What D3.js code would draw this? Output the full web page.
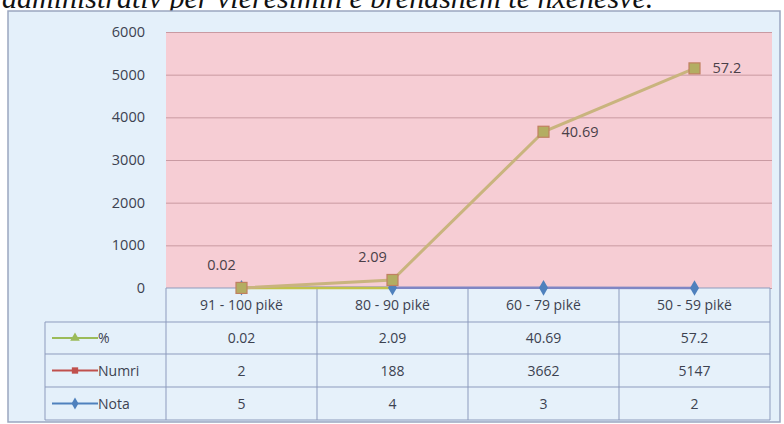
<!DOCTYPE html>
<html>
<head>
<meta charset="utf-8">
<script src="https://cdn.jsdelivr.net/npm/d3@7"></script>
<style>
  body { margin: 0; background: #fff; }
  .caption { font-family: "Liberation Serif", "DejaVu Serif", serif; font-style: italic; }
</style>
</head>
<body>
<div id="chart"></div>
<script>
// data
const categories = ["91 - 100 pikë", "80 - 90 pikë", "60 - 79 pikë", "50 - 59 pikë"];
const percent = [0.02, 2.09, 40.69, 57.2];
const numri = [2, 188, 3662, 5147];
const nota = [5, 4, 3, 2];
const yTicks = [0, 1000, 2000, 3000, 4000, 5000, 6000];
const caption = "administrativ për vlerësimin e brendshëm të nxënësve.";

const width = 784, height = 424;
const plot = { left: 166, right: 770, top: 32, bottom: 288 };
const sans = "'Open Sans', 'DejaVu Sans', sans-serif";

const svg = d3.select("#chart").append("svg")
  .attr("width", width)
  .attr("height", height);

// caption line cut at the top of the image
svg.append("text")
  .attr("class", "caption")
  .attr("x", 2)
  .attr("y", 8)
  .attr("font-size", 30)
  .attr("fill", "#111")
  .text(caption);

// chart frame
svg.append("rect")
  .attr("x", 8).attr("y", 11)
  .attr("width", 772).attr("height", 411)
  .attr("fill", "#e4f0fa")
  .attr("stroke", "#9aa6c0")
  .attr("stroke-width", 1.5);

const x = d3.scaleBand().domain(categories).range([plot.left, plot.right]);
const y = d3.scaleLinear().domain([0, 6000]).range([plot.bottom, plot.top]);
const cx = d => x(d) + x.bandwidth() / 2;

// plot background
svg.append("rect")
  .attr("x", plot.left).attr("y", plot.top)
  .attr("width", plot.right - plot.left + 2)
  .attr("height", plot.bottom - plot.top)
  .attr("fill", "#f6cdd4");

// gridlines
svg.append("g")
  .attr("transform", `translate(${plot.left},0)`)
  .call(d3.axisLeft(y).tickValues(yTicks).tickSize(-(plot.right - plot.left + 2)).tickFormat(""))
  .call(g => g.select(".domain").remove())
  .call(g => g.selectAll("line").attr("stroke", "#c99aa2").attr("stroke-width", 1));

// y axis labels
svg.append("g")
  .attr("transform", `translate(${plot.left},0)`)
  .call(d3.axisLeft(y).tickValues(yTicks).tickSize(0).tickPadding(21).tickFormat(d3.format("d")))
  .call(g => g.select(".domain").remove())
  .call(g => g.selectAll("text")
    .attr("font-family", sans)
    .attr("font-size", 14.5)
    .attr("fill", "#3c4250"));

// data table under the plot
const rowsY = [288, 322, 354, 387, 420];
const tableLeft = 45;
const gridColor = "#8d9bbd";
const table = svg.append("g").attr("font-family", sans);
table.append("rect")
  .attr("x", plot.left).attr("y", rowsY[0])
  .attr("width", plot.right - plot.left).attr("height", rowsY[4] - rowsY[0])
  .attr("fill", "#e6f1fa");
// horizontal lines
rowsY.forEach((ry, i) => {
  table.append("line")
    .attr("x1", i === 0 ? plot.left : tableLeft).attr("x2", plot.right)
    .attr("y1", ry).attr("y2", ry)
    .attr("stroke", gridColor).attr("stroke-width", 1);
});
// vertical lines
[tableLeft].concat(categories.map(c => x(c)), [plot.right]).forEach((vx, i) => {
  table.append("line")
    .attr("x1", vx).attr("x2", vx)
    .attr("y1", i === 0 ? rowsY[1] : rowsY[0]).attr("y2", rowsY[4])
    .attr("stroke", gridColor).attr("stroke-width", 1);
});

// header labels
table.selectAll(".cat").data(categories).enter().append("text")
  .attr("x", d => cx(d))
  .attr("y", (rowsY[0] + rowsY[1]) / 2 + 5)
  .attr("text-anchor", "middle")
  .attr("font-size", 14)
  .attr("fill", "#3c4250")
  .text(d => d);

const rows = [
  { name: "%", values: percent, color: "#9bbb59", marker: "triangle" },
  { name: "Numri", values: numri, color: "#c0504d", marker: "square" },
  { name: "Nota", values: nota, color: "#4f81bd", marker: "diamond" }
];
const symbolType = { triangle: d3.symbolTriangle, square: d3.symbolSquare, diamond: d3.symbolDiamond };

rows.forEach((r, i) => {
  const mid = (rowsY[i + 1] + rowsY[i + 2]) / 2;
  table.selectAll(".v" + i).data(r.values).enter().append("text")
    .attr("x", (d, j) => cx(categories[j]))
    .attr("y", mid + 5)
    .attr("text-anchor", "middle")
    .attr("font-size", 14)
    .attr("fill", "#3c4250")
    .text(d => d);
  // legend key
  table.append("line")
    .attr("x1", 52).attr("x2", 98)
    .attr("y1", mid).attr("y2", mid)
    .attr("stroke", r.color).attr("stroke-width", 2);
  table.append("path")
    .attr("transform", `translate(75,${mid})`)
    .attr("d", d3.symbol().type(symbolType[r.marker]).size(40)())
    .attr("fill", r.color);
  table.append("text")
    .attr("x", 98).attr("y", mid + 5)
    .attr("font-size", 14)
    .attr("fill", "#3c4250")
    .text(r.name);
});

// series lines
const line = d3.line().x((d, j) => cx(categories[j])).y(d => y(d));

svg.append("path").datum(nota)
  .attr("d", line).attr("fill", "none")
  .attr("stroke", "#7f86c4").attr("stroke-width", 2.5);
svg.append("path")
  .attr("d", line(percent.slice(0, 2)))
  .attr("fill", "none")
  .attr("stroke", "#c2c24a").attr("stroke-width", 2.5);
svg.append("path").datum(numri)
  .attr("d", line).attr("fill", "none")
  .attr("stroke", "#c9b47e").attr("stroke-width", 3);

// Nota markers
svg.selectAll(".nota").data(nota).enter().append("path")
  .attr("transform", (d, j) => `translate(${cx(categories[j])},${y(d)})`)
  .attr("d", d3.symbol().type(d3.symbolDiamond).size(70)())
  .attr("fill", "#4f81bd");

// Numri markers
svg.selectAll(".numri").data(numri).enter().append("rect")
  .attr("x", (d, j) => cx(categories[j]) - 5.5)
  .attr("y", d => y(d) - 5.5)
  .attr("width", 11).attr("height", 11)
  .attr("fill", "#b3ad62")
  .attr("stroke", "#c08060").attr("stroke-width", 1.2);

// data labels (% shown on Numri points)
svg.selectAll(".lbl").data(numri).enter().append("text")
  .attr("x", (d, j) => d < 1000 ? cx(categories[j]) - 20 : cx(categories[j]) + 18)
  .attr("y", d => d < 1000 ? y(d) - 18 : y(d) + 5)
  .attr("text-anchor", d => d < 1000 ? "middle" : "start")
  .attr("font-family", sans)
  .attr("font-size", 14.5)
  .attr("fill", "#4a3f48")
  .text((d, j) => percent[j]);
</script>
</body>
</html>
